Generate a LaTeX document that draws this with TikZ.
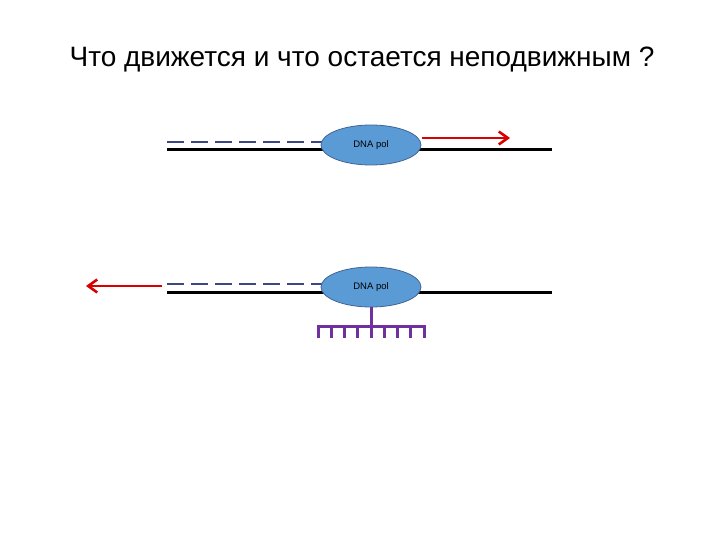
\documentclass[tikz,border=0pt]{standalone}
\usepackage{fontspec}
\setmainfont{Liberation Sans}
\usetikzlibrary{shapes.geometric,arrows.meta}
\begin{document}
\begin{tikzpicture}[x=1pt,y=-1pt,
  dna/.style={line width=3pt,black},
  primer/.style={line width=2.6pt,color={rgb,255:red,60;green,70;blue,130},dash pattern=on 17pt off 7pt},
  pol/.style={ellipse,draw={rgb,255:red,65;green,100;blue,150},fill={rgb,255:red,91;green,155;blue,213},line width=0.8pt,minimum width=100pt,minimum height=40pt,inner sep=0pt,font=\fontsize{9.5}{11}\selectfont},
  move/.style={line width=2.6pt,red!85!black,-{Straight Barb[length=9pt,width=13pt]}},
  comb/.style={line width=3pt,color={rgb,255:red,112;green,48;blue,160}}]
\useasboundingbox[fill=white] (0,0) rectangle (720,540);
\node (title) at (362,60) {\fontsize{28}{32}\selectfont Что движется и что остается неподвижным ?};
% top
\coordinate (t1) at (167,150); \coordinate (t2) at (552,150);
\coordinate (p1) at (167,142); \coordinate (p2) at (322,142);
\draw[dna] (t1) -- (t2);
\draw[primer] (p1) -- (p2);
\node[pol] (pol1) at (371,145) {DNA pol};
\coordinate (a1) at (422,138); \coordinate (a2) at (510,138);
\draw[move] (a1) -- (a2);
% bottom
\coordinate (b1) at (167,292); \coordinate (b2) at (552,292);
\coordinate (q1) at (167,284); \coordinate (q2) at (322,284);
\draw[dna] (b1) -- (b2);
\draw[primer] (q1) -- (q2);
\node[pol] (pol2) at (371,287) {DNA pol};
\coordinate (c1) at (162,286); \coordinate (c2) at (86,286);
\draw[move] (c1) -- (c2);
\coordinate (s) at (371,326);
\draw[comb] (pol2.south) -- (s);
\draw[comb] (316.5,326) -- (424.5,326);
\foreach \i in {0,...,8} \draw[comb] (318+\i*13.25,325) -- (318+\i*13.25,338);
\end{tikzpicture}
\end{document}
